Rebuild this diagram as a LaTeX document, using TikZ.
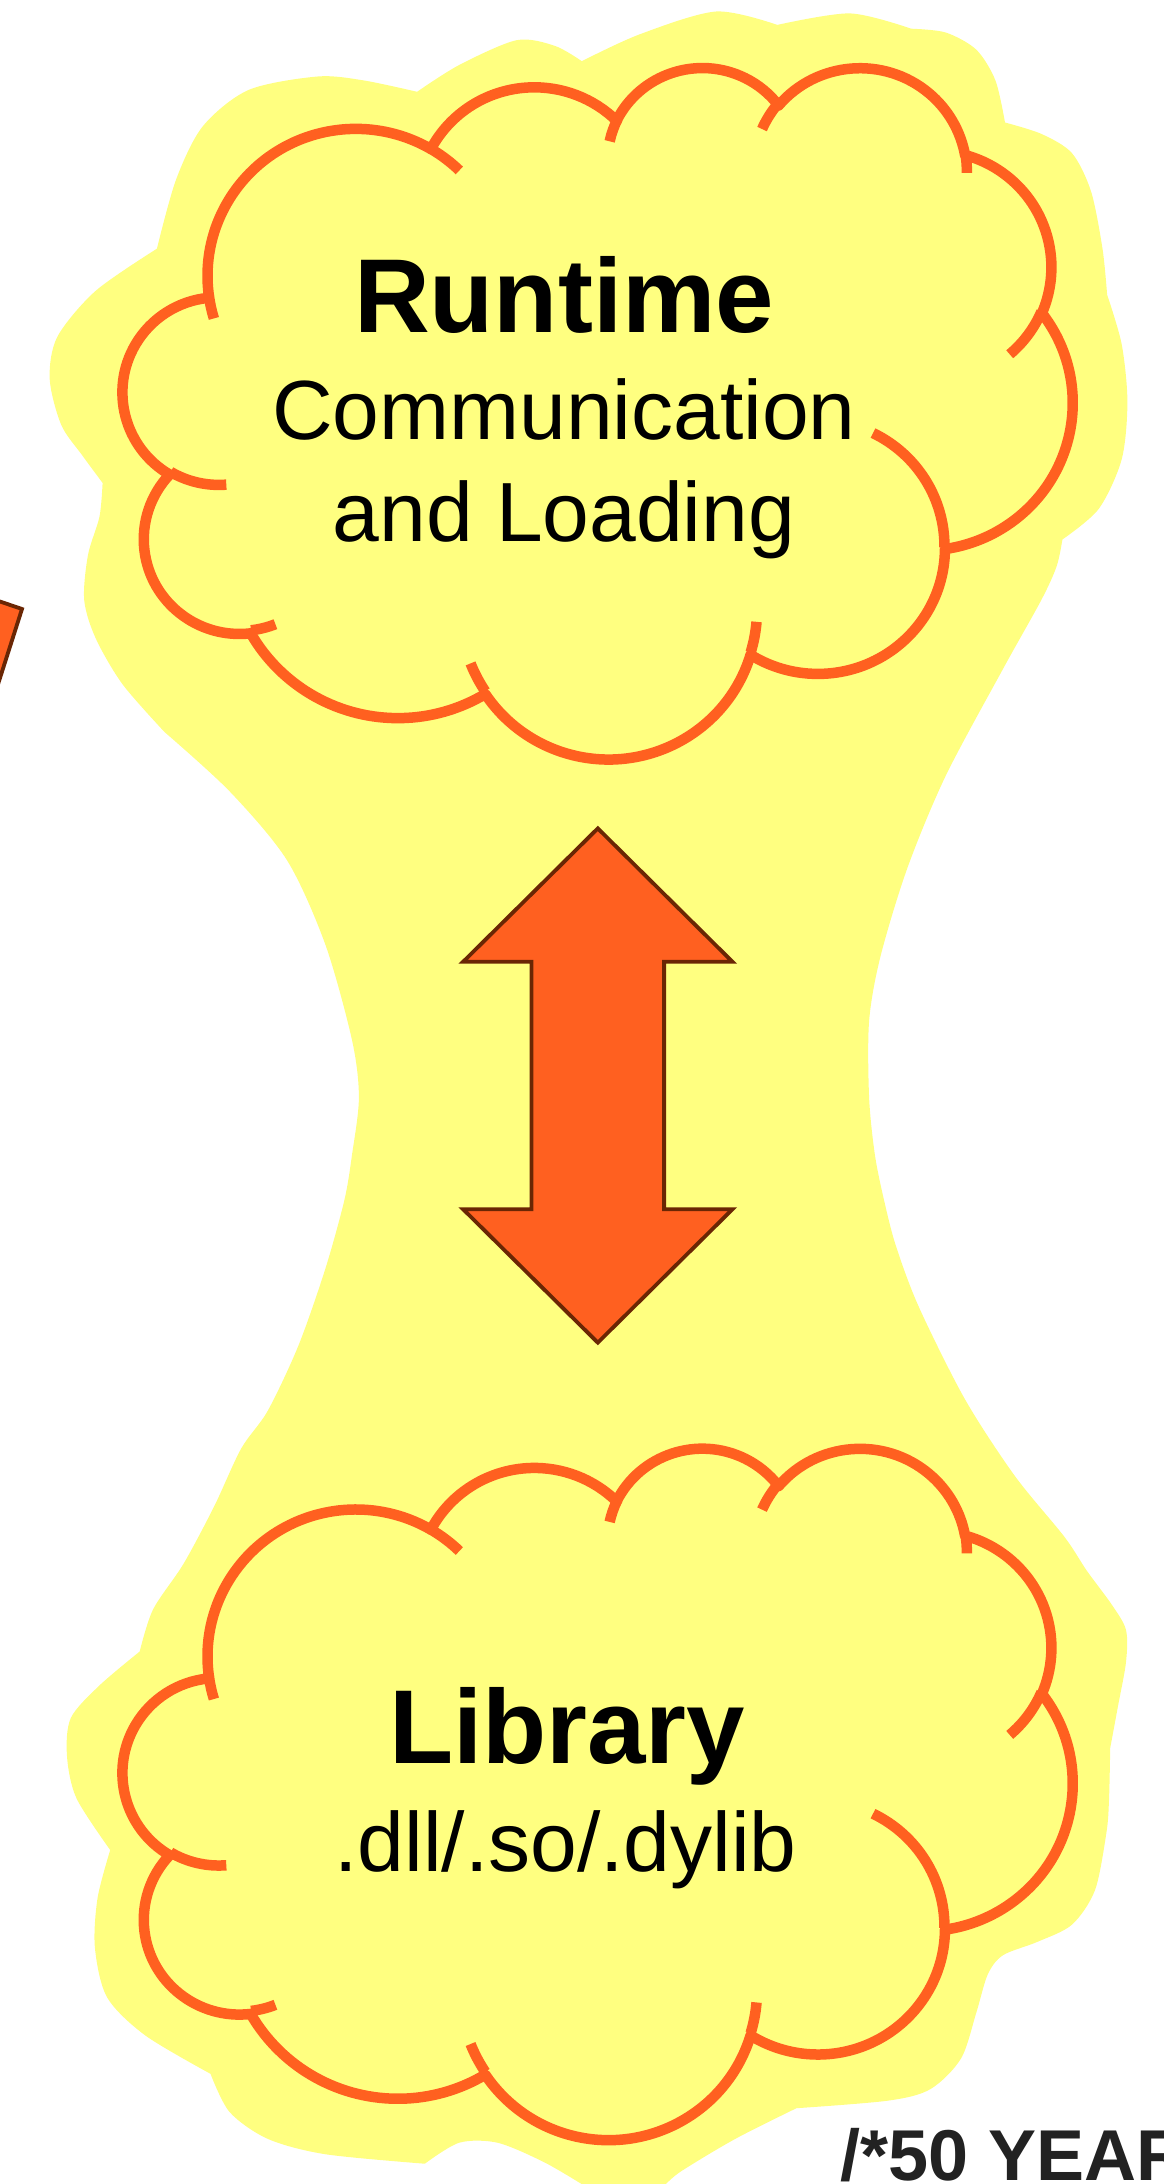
\documentclass[tikz,border=0pt]{standalone}
\usepackage{fontspec}
\setmainfont{Liberation Sans}

\definecolor{blobyellow}{RGB}{255,255,128}
\definecolor{cloudorange}{RGB}{255,96,32}
\definecolor{arrowbrown}{RGB}{106,38,4}
\definecolor{labelgray}{RGB}{34,34,34}

% one lobe of the cloud: radii, start angle, sweep (angles as seen on the ellipse)
\newcommand\cloudlobe[4]{arc[x radius=#1, y radius=#2,
    start angle={atan2(#1*sin(#3),#2*cos(#3))},
    delta angle={mod(atan2(#1*sin(#3+#4),#2*cos(#3+#4))-atan2(#1*sin(#3),#2*cos(#3))+720,360)}]}

\newcommand\cloudoutline{(39.00,143.70)
    \cloudlobe{67.53}{91.90}{-190.4875}{123.7805}
    \cloudlobe{53.33}{72.67}{-144.1024}{89.9452}
    \cloudlobe{43.65}{59.45}{-145.8079}{99.7230}
    \cloudlobe{48.57}{65.95}{-130.9861}{117.2417}
    \cloudlobe{53.33}{72.73}{-78.7089}{109.0269}
    \cloudlobe{67.75}{92.20}{-46.2673}{130.2690}
    \cloudlobe{57.85}{78.67}{0.6250}{114.0333}
    \cloudlobe{67.52}{92.15}{22.4516}{115.1726}
    \cloudlobe{77.20}{105.43}{66.2426}{75.7110}
    \cloudlobe{43.60}{59.18}{-274.9421}{146.7356}
    \cloudlobe{43.45}{59.45}{-246.8285}{152.5189} -- cycle}

\newcommand\cloudinner{%
    (46.93,261.77) \cloudlobe{43.45}{59.45}{86.7420}{26.4295}
    (69.28,348.99) \cloudlobe{43.60}{59.18}{73.6105}{11.4475}
    (164.78,390.90) \cloudlobe{67.52}{92.15}{137.6242}{14.0811}
    (288.27,347.51) \cloudlobe{67.52}{92.15}{6.4533}{15.9984}
    (341.29,229.54) \cloudlobe{57.85}{78.67}{-70.2924}{70.9174}
    (417.98,153.54) \cloudlobe{53.33}{72.73}{30.3180}{27.7515}
    (383.24,54.26) \cloudlobe{48.57}{65.95}{-13.7443}{14.8589}
    (290.78,39.52) \cloudlobe{48.57}{65.95}{-149.1815}{18.1954}
    (221.41,47.20) \cloudlobe{43.65}{59.45}{-163.4943}{17.6864}
    (140.00,51.92) \cloudlobe{67.53}{91.90}{-66.7070}{12.3194}
    (41.27,157.89) \cloudlobe{67.53}{91.90}{157.6544}{11.8582}}

\tikzset{
    pics/slidecloud/.style={code={
        \begin{scope}[x=2.197pt, y=-1.600pt]
            \path[fill=blobyellow, cloudline] \cloudoutline;
            \draw[cloudline] \cloudinner;
        \end{scope}}}
}

\begin{document}
\begin{tikzpicture}[
        x=1pt, y=-1pt,
        cloudline/.style={draw=cloudorange, line width=10.5pt, line join=round},
        linkarrow/.style={fill=cloudorange, draw=arrowbrown, line width=3.8pt},
        titletext/.style={anchor=base, inner sep=0pt,
                          font=\fontsize{105}{105}\selectfont\bfseries},
        subtext/.style={anchor=base, inner sep=0pt,
                        font=\fontsize{84}{100}\selectfont}
    ]

    \fill[white] (0,0) rectangle (1163,2184);
    \useasboundingbox (0,0) rectangle (1163,2184);

    %% yellow backdrop
    \fill[blobyellow]
        plot[smooth] coordinates {(417.1,91.8) (459.2,65) (516.6,40.2) (554.9,45.9) (581.8,61.2)}
     -- plot[smooth] coordinates {(581.8,61.2) (639.5,34.4) (716.1,11.5) (777.3,24.9)}
     -- plot[smooth] coordinates {(777.3,24.9) (850,13.4) (911.2,28.7)}
     -- plot[smooth] coordinates {(911.2,28.7) (945.7,32.5) (976.3,49.7) (995.4,80.4) (1005,122.5)}
     -- plot[smooth] coordinates {(1005,122.5) (1041.3,133.9) (1071.9,153.1) (1091,191.3)
                                  (1102.5,248.7) (1107.1,294.6)}
     -- plot[smooth] coordinates {(1107.1,294.6) (1121.7,344.4) (1127.4,401.8) (1121.7,459.2)
                                  (1098.7,508.9) (1062.4,539.5)}
     -- plot[smooth] coordinates {(1062.4,539.5) (1056.6,566.3) (1041.3,600) (1003,668.9)
                                  (945.6,776) (907.4,867.9) (880.6,955.9) (869.1,1020.9)
                                  (869.1,1097.5) (874.9,1154.9) (884,1200) (895.9,1245.9)
                                  (918.9,1307.1) (964.8,1399) (1014.5,1475.5) (1064.3,1536.7)
                                  (1087,1571) (1112,1605) (1126,1630) (1126,1662)
                                  (1118,1706) (1110.2,1748)}
     -- plot[smooth] coordinates {(1110.2,1748) (1109,1800) (1106.4,1832.7) (1095,1890.1)
                                  (1072,1924.6) (1037.5,1941.8) (1003,1955.2) (987.8,1974.3)
                                  (976.3,2012.6) (961,2058.5) (930.4,2089.1) (888.3,2100.6)
                                  (796.4,2108.2)}
     -- plot[smooth] coordinates {(796.4,2108.2) (735.2,2138.9) (680,2172) (650,2195)
                                  (600,2200) (581.6,2184)}
     -- plot[smooth] coordinates {(581.6,2184) (543.4,2161.8) (497.5,2142.7) (459.2,2142.7)
                                  (424.8,2163.7)}
     -- plot[smooth] coordinates {(424.8,2163.7) (325.3,2154.2) (267.9,2138.9) (229.6,2112)
                                  (210.5,2073.8)}
     -- plot[smooth] coordinates {(210.5,2073.8) (145.4,2035.5) (107.1,1997.3) (94.9,1947.5)
                                  (97.6,1897.8) (110.2,1850)}
     -- plot[smooth] coordinates {(110.2,1850) (76.5,1798.3) (67,1756.2) (70.8,1718)
                                  (99.5,1685.4) (139.7,1651.5)}
     -- plot[smooth] coordinates {(139.7,1651.5) (153.1,1609.4) (183.7,1563.5) (214.3,1506.1)
                                  (241.1,1448.7) (267.9,1410.5) (298.5,1345.4) (325.3,1268.9)
                                  (344.4,1200) (352,1154.9) (358.9,1097.5) (352,1040)
                                  (325.3,944.4) (287,860.2) (229.6,791.3) (164.5,732)}
     -- plot[smooth] coordinates {(164.5,732) (122.5,684.2) (95.7,638.3) (84.2,600)
                                  (88,554.9) (99.5,516.6) (102.6,482.9)}
     -- plot[smooth] coordinates {(102.6,482.9) (82.3,455.4) (61.2,424.8) (49.7,378.8)
                                  (57.4,336.7) (95.7,290.8) (156.9,248.7)}
     -- plot[smooth] coordinates {(156.9,248.7) (176,179.8) (202.8,126.3) (248.7,89.9)
                                  (317.6,76.5) (363.5,80.4) (417.1,91.8)}
     -- cycle;

    %% corner of a shape cut by the left edge
    \draw[linkarrow] (-30,591.3) -- (22,609) -- (-10,709.4) -- (-40,709.4) -- cycle;

    %% the two clouds
    \pic (rtcloud)  at (123.2,65.8)   {slidecloud};
    \pic (libcloud) at (123.2,1446.4) {slidecloud};

    %% double arrow between them
    \coordinate (linkc) at (597.8,1085.5);
    \begin{scope}[shift={(linkc)}]
        \draw[linkarrow] (0,-257.1) -- (134.7,-123.7) -- (66.3,-123.7) -- (66.3,123.7)
            -- (134.7,123.7) -- (0,257.1) -- (-134.7,123.7) -- (-66.3,123.7)
            -- (-66.3,-123.7) -- (-134.7,-123.7) -- cycle;
    \end{scope}

    %% texts
    \node[titletext] (rttitle) at (564,332.2)  {Runtime};
    \node[subtext]   (rtlinea) at (564,439.3)  {Communication};
    \node[subtext]   (rtlineb) at (564,541.5)  {and Loading};

    \node[titletext] (libtitle) at (567,1763.9) {Library};
    \node[subtext]   (libline)  at (565.6,1871.8) {.dll/.so/.dylib};

    \node[anchor=base west, inner sep=0pt, text=labelgray,
          font=\fontsize{72}{72}\selectfont\bfseries] (years) at (840,2180) {/*50 YEAR};

\end{tikzpicture}
\end{document}
